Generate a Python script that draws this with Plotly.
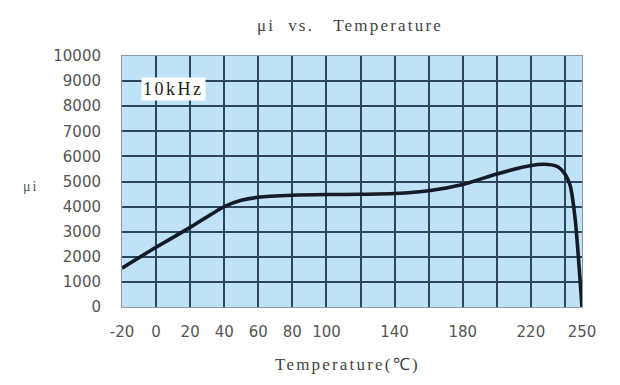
import plotly.graph_objects as go

temperature = [-20, 0, 20, 40, 50, 60, 80, 100, 120, 140, 160, 180, 200, 220, 230, 236, 240, 243, 246, 250]
mu_i = [1550, 2380, 3170, 4000, 4250, 4370, 4450, 4480, 4490, 4520, 4630, 4880, 5300, 5640, 5680, 5580, 5300, 4850, 3500, 0]

x_grid = [-20, 0, 20, 40, 60, 80, 100, 120, 140, 160, 180, 200, 220, 240, 250]
x_labels = ["-20", "0", "20", "40", "60", "80", "100", "", "140", "", "180", "", "220", "", "250"]
y_ticks = list(range(0, 10001, 1000))
y_labels = [str(v) for v in y_ticks]

# page body has an 8px margin, so figure margins are offset to compensate
L, R, T, B = 114, 46, 48, 86
PW, PH = 620 - L - R, 385 - T - B


def spaced(text, px):
    return f'<span style="letter-spacing:{px}px">{text}</span>'


fig = go.Figure()
fig.add_trace(go.Scatter(
    x=temperature, y=mu_i, mode="lines",
    line=dict(color="#141a26", width=3.6, shape="spline", smoothing=0.6),
    showlegend=False,
))

fig.add_annotation(
    x=10.5, y=8700, xref="x", yref="y", text=spaced("10kHz", 2.5), showarrow=False,
    font=dict(family="Liberation Serif", size=18, color="#222"),
    bgcolor="white", borderpad=1,
)
fig.add_annotation(
    x=(22 - L) / PW, y=1 - (178 - T) / PH, xref="paper", yref="paper", text=spaced("\u03bci", 2),
    showarrow=False, xanchor="center", yanchor="middle",
    font=dict(family="Liberation Serif", size=14, color="#555"),
)
fig.add_annotation(
    x=(339 - L) / PW, y=1 - (356 - T) / PH, xref="paper", yref="paper", text=spaced("Temperature(\u2103)", 2.2),
    showarrow=False, xanchor="center", yanchor="middle",
    font=dict(family="Liberation Serif", size=17, color="#444"),
)

fig.update_layout(
    width=620, height=385,
    margin=dict(l=L, r=R, t=T, b=B),
    paper_bgcolor="white", plot_bgcolor="#bfe2f7",
    title=dict(text=spaced("\u03bci  vs.   Temperature", 2.2), x=342 / 620, xanchor="center", y=1 - 17 / 385, yanchor="middle",
               font=dict(family="Liberation Serif", size=17, color="#444")),
    xaxis=dict(range=[-20, 250], tickvals=x_grid, ticktext=x_labels, showgrid=True,
               gridcolor="#2c4460", gridwidth=1.6, zeroline=False, automargin=False,
               showline=True, linecolor="#8a9aa8", linewidth=1, mirror=True,
               ticks="", ticklabelstandoff=11,
               tickfont=dict(family="DejaVu Sans", size=15, color="#555")),
    yaxis=dict(range=[0, 10000], tickvals=y_ticks, ticktext=y_labels, showgrid=True,
               gridcolor="#2c4460", gridwidth=1.6, zeroline=False, automargin=False,
               showline=True, linecolor="#8a9aa8", linewidth=1, mirror=True,
               ticks="", ticklabelstandoff=17,
               tickfont=dict(family="DejaVu Sans", size=15, color="#555")),
)

fig.write_html("out.html")
